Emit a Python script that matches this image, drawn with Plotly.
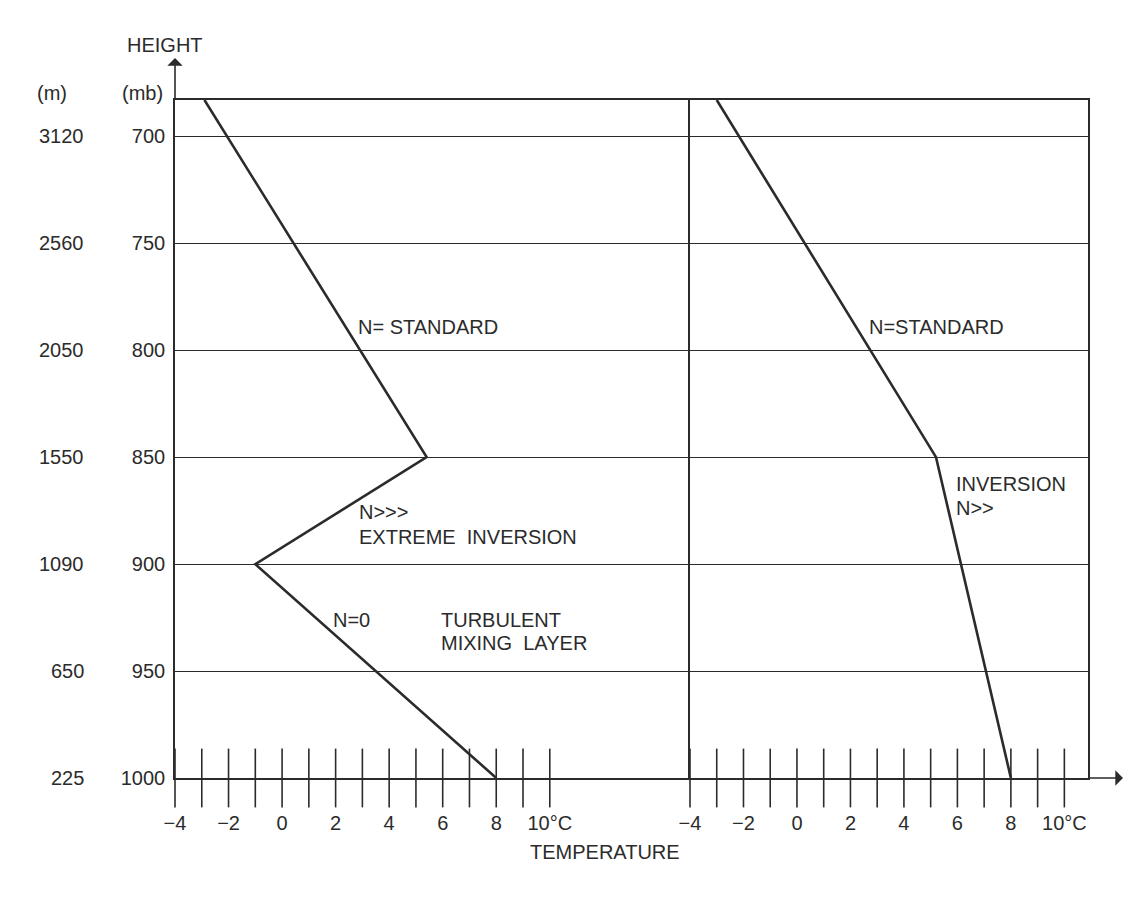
import plotly.graph_objects as go

# ---- data ----
pressure_levels = [700, 750, 800, 850, 900, 950, 1000]
height_m = [3120, 2560, 2050, 1550, 1090, 650, 225]

left_p = [683, 850, 900, 1000]
left_t = [-2.9, 5.4, -1.0, 8.0]

right_p = [683, 850, 1000]
right_t = [-3.0, 5.2, 8.0]

temp_ticks = list(range(-4, 11))
temp_label_vals = [-4, -2, 0, 2, 4, 6, 8, 10]
temp_label_text = ["−4", "−2", "0", "2", "4", "6", "8", "10°C"]

INK = "#2b2b2b"
FONT = "Liberation Sans"

fig = go.Figure()

# profiles
fig.add_trace(go.Scatter(x=left_t, y=left_p, mode="lines", xaxis="x", yaxis="y",
                         line=dict(color=INK, width=2.6), cliponaxis=False, showlegend=False))
fig.add_trace(go.Scatter(x=right_t, y=right_p, mode="lines", xaxis="x2", yaxis="y2",
                         line=dict(color=INK, width=2.6), cliponaxis=False, showlegend=False))

# crossing tick marks on the 1000 mb line
for xa, ya in (("x", "y"), ("x2", "y2")):
    fig.add_trace(go.Scatter(x=temp_ticks, y=[1000] * len(temp_ticks), mode="markers",
                             xaxis=xa, yaxis=ya, cliponaxis=False, showlegend=False,
                             hoverinfo="skip",
                             marker=dict(symbol="line-ns", size=42,
                                         line=dict(color=INK, width=1.6))))

split = 515 / 913
axis_common = dict(showgrid=False, zeroline=False, showline=True, linecolor=INK, linewidth=1.6,
                   mirror=True, tickmode="array", tickvals=temp_label_vals, ticktext=temp_label_text,
                   ticks="outside", ticklen=26, tickcolor="rgba(0,0,0,0)",
                   tickfont=dict(family=FONT, size=20, color=INK))

fig.update_layout(
    width=1130, height=895,
    margin=dict(l=167, r=50, t=92, b=125),
    paper_bgcolor="white", plot_bgcolor="white",
    xaxis=dict(domain=[0, split], range=[-4, -4 + 515 / 26.77], anchor="y", **axis_common),
    xaxis2=dict(domain=[split, 1], range=[-4, -4 + 398 / 26.74], anchor="y2", **axis_common),
    yaxis=dict(range=[1000, 683], anchor="x", showline=True, linecolor=INK, linewidth=1.6,
               showgrid=True, gridcolor=INK, gridwidth=1.4, zeroline=False,
               tickmode="array", tickvals=pressure_levels, ticktext=[str(p) for p in pressure_levels],
               ticks="outside", ticklen=4, tickcolor="rgba(0,0,0,0)",
               tickfont=dict(family=FONT, size=20, color=INK)),
    yaxis2=dict(range=[1000, 683], anchor="x2", matches="y", showline=True, mirror=True,
                linecolor=INK, linewidth=1.6, showgrid=True, gridcolor=INK, gridwidth=1.4,
                zeroline=False, tickmode="array", tickvals=pressure_levels, showticklabels=False),
)

ann = []
# heights in metres
for p, h in zip(pressure_levels, height_m):
    ann.append(dict(x=-0.097, xref="paper", y=p, yref="y", text=str(h), showarrow=False,
                    xanchor="right", font=dict(family=FONT, size=20, color=INK)))
ann += [
    dict(x=(52 - 175) / 913, xref="paper", y=1 + 7 / 678, yref="paper", text="(m)", showarrow=False,
         xanchor="center", yanchor="middle", font=dict(family=FONT, size=20, color=INK)),
    dict(x=(142 - 175) / 913, xref="paper", y=1 + 7 / 678, yref="paper", text="(mb)", showarrow=False,
         xanchor="center", yanchor="middle", font=dict(family=FONT, size=20, color=INK)),
    dict(x=(165 - 175) / 913, xref="paper", y=1 + 55 / 678, yref="paper", text="HEIGHT", showarrow=False,
         xanchor="center", yanchor="middle", font=dict(family=FONT, size=20, color=INK)),
    # vertical axis arrow
    dict(x=0, xref="paper", y=1 + 42 / 678, yref="paper", text="", showarrow=True,
         ax=0, ay=42, arrowhead=1, arrowsize=1.6, arrowwidth=1.6, arrowcolor=INK),
    # horizontal axis arrow
    dict(x=(1123 - 175) / 913, xref="paper", y=1000, yref="y", text="", showarrow=True,
         ax=-36, ay=0, arrowhead=1, arrowsize=1.6, arrowwidth=1.6, arrowcolor=INK),
    dict(x=(605 - 175) / 913, xref="paper", y=-74 / 678, yref="paper", text="TEMPERATURE",
         showarrow=False, xanchor="center", yanchor="middle",
         font=dict(family=FONT, size=20, color=INK)),
]

labels_left = [
    ("N= STANDARD", 2.77, 789),
    ("N&gt;&gt;&gt;", 2.8, 875.6),
    ("EXTREME  INVERSION", 2.8, 887.3),
    ("N=0", 1.83, 926),
    ("TURBULENT", 5.87, 926),
    ("MIXING  LAYER", 5.87, 937),
]
labels_right = [
    ("N=STANDARD", 2.63, 789),
    ("INVERSION", 5.88, 862.5),
    ("N&gt;&gt;", 5.88, 873.7),
]
for t, x, y in labels_left:
    ann.append(dict(x=x, y=y, xref="x", yref="y", text=t, showarrow=False, xanchor="left",
                    font=dict(family=FONT, size=20, color=INK)))
for t, x, y in labels_right:
    ann.append(dict(x=x, y=y, xref="x2", yref="y2", text=t, showarrow=False, xanchor="left",
                    font=dict(family=FONT, size=20, color=INK)))

fig.update_layout(annotations=ann)

fig.write_html("out.html")
